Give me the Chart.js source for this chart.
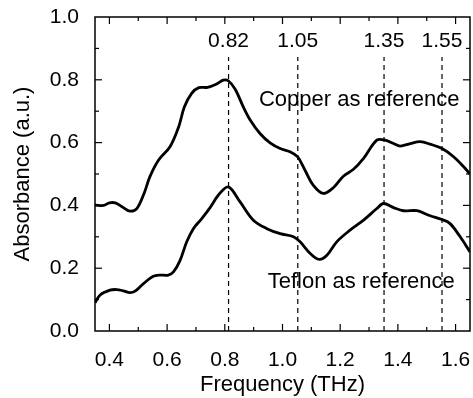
<!DOCTYPE html>
<html>
<head>
<meta charset="utf-8">
<script src="https://cdn.jsdelivr.net/npm/chart.js@4/dist/chart.umd.min.js"></script>
<style>
  html, body { margin: 0; background: #fff; }
</style>
</head>
<body>
<canvas id="absChart" width="473" height="398"></canvas>
<script>
// ── Absorbance spectra ──

const copperFreq = [0.35,0.38,0.40,0.42,0.445,0.47,0.495,0.52,0.54,0.57,0.61,0.64,0.66,0.685,0.71,0.74,0.77,0.795,0.812,0.836,0.864,0.888,0.922,0.957,0.992,1.026,1.052,1.078,1.107,1.142,1.177,1.211,1.246,1.281,1.327,1.356,1.385,1.408,1.443,1.477,1.512,1.553,1.593,1.628,1.65];
const copperAbs  = [0.401,0.400,0.408,0.408,0.395,0.382,0.390,0.438,0.491,0.544,0.587,0.650,0.714,0.757,0.775,0.776,0.786,0.799,0.797,0.770,0.714,0.672,0.629,0.599,0.581,0.571,0.555,0.512,0.464,0.438,0.457,0.493,0.515,0.550,0.608,0.608,0.597,0.589,0.597,0.603,0.595,0.581,0.555,0.523,0.500];

const teflonFreq = [0.35,0.367,0.402,0.425,0.448,0.471,0.489,0.518,0.552,0.575,0.604,0.622,0.645,0.668,0.691,0.72,0.749,0.778,0.812,0.853,0.899,0.946,0.992,1.038,1.061,1.096,1.127,1.154,1.188,1.234,1.281,1.327,1.35,1.385,1.419,1.466,1.512,1.553,1.581,1.616,1.65];
const teflonAbs  = [0.090,0.114,0.130,0.132,0.128,0.122,0.127,0.151,0.174,0.178,0.178,0.188,0.225,0.284,0.326,0.358,0.393,0.433,0.459,0.411,0.353,0.326,0.310,0.300,0.284,0.247,0.228,0.241,0.284,0.321,0.353,0.390,0.406,0.393,0.383,0.383,0.367,0.355,0.342,0.300,0.252];

const peakFreq   = [0.813, 1.053, 1.352, 1.553];
const peakLabels = ['0.82', '1.05', '1.35', '1.55'];

const xTicks = [0.4, 0.6, 0.8, 1.0, 1.2, 1.4, 1.6];
const yTicks = [0.0, 0.2, 0.4, 0.6, 0.8, 1.0];

const FONT = '"Liberation Sans", Arial, sans-serif';

const pts = (xs, ys) => xs.map((v, i) => ({ x: v, y: ys[i] }));

const curve = data => ({
  data, borderColor: '#000', borderWidth: 2.8,
  tension: 0.35, pointRadius: 0, fill: false
});

const dashes = peakFreq.map(f => ({
  data: [{ x: f, y: 0 }, { x: f, y: 0.873 }],
  borderColor: '#000', borderWidth: 1.2, borderDash: [5, 4],
  pointRadius: 0, fill: false
}));

const noPad = s => { s.paddingTop = s.paddingBottom = s.paddingLeft = s.paddingRight = 0; };

// frame, inward ticks and in-plot text
const framePlugin = {
  id: 'frame',
  afterDatasetsDraw(chart) {
    const { ctx, chartArea: a, scales: { x, y } } = chart;
    const seg = (x1, y1, x2, y2) => { ctx.beginPath(); ctx.moveTo(x1, y1); ctx.lineTo(x2, y2); ctx.stroke(); };
    ctx.save();
    ctx.strokeStyle = '#000';
    ctx.lineWidth = 1.5;
    ctx.strokeRect(a.left, a.top, a.right - a.left, a.bottom - a.top);
    ctx.lineWidth = 1.2;
    for (let i = 4; i <= 16; i++) {
      const px = x.getPixelForValue(i / 10), len = i % 2 ? 4 : 7;
      seg(px, a.bottom, px, a.bottom - len);
      seg(px, a.top, px, a.top + len);
    }
    for (let i = 1; i <= 9; i++) {
      const py = y.getPixelForValue(i / 10), len = i % 2 ? 4 : 7;
      seg(a.left, py, a.left + len, py);
      seg(a.right, py, a.right - len, py);
    }
    ctx.fillStyle = '#000';
    ctx.textAlign = 'center';
    ctx.textBaseline = 'middle';
    ctx.font = '21px ' + FONT;
    peakFreq.forEach((f, i) => ctx.fillText(peakLabels[i], x.getPixelForValue(f), y.getPixelForValue(0.924)));
    ctx.font = '22px ' + FONT;
    ctx.fillText('Copper as reference', x.getPixelForValue(1.266), y.getPixelForValue(0.735));
    ctx.fillText('Teflon as reference', x.getPixelForValue(1.273), y.getPixelForValue(0.156));
    ctx.restore();
  }
};

new Chart(document.getElementById('absChart').getContext('2d'), {
  type: 'line',
  data: {
    datasets: [curve(pts(copperFreq, copperAbs)), curve(pts(teflonFreq, teflonAbs)), ...dashes]
  },
  options: {
    responsive: false, animation: false,
    layout: { padding: { top: 17, right: 3, left: 0, bottom: 0 } },
    plugins: { legend: { display: false }, tooltip: { enabled: false } },
    scales: {
      x: {
        type: 'linear', min: 0.35, max: 1.65,
        afterBuildTicks: s => { s.ticks = xTicks.map(v => ({ value: v })); },
        afterFit: s => { s.height = 67; noPad(s); },
        grid: { display: false }, border: { display: false },
        ticks: { color: '#000', padding: 9, font: { size: 21, family: FONT }, callback: v => v.toFixed(1) },
        title: { display: true, text: 'Frequency (THz)', color: '#000', padding: { top: 3, bottom: 0 }, font: { size: 22, family: FONT } }
      },
      y: {
        min: 0, max: 1.0,
        afterBuildTicks: s => { s.ticks = yTicks.map(v => ({ value: v })); },
        afterFit: s => { s.width = 95; noPad(s); },
        grid: { display: false }, border: { display: false },
        ticks: { color: '#000', padding: 8, font: { size: 21, family: FONT }, callback: v => v.toFixed(1) },
        title: { display: true, text: 'Absorbance (a.u.)', color: '#000', padding: { top: 10, bottom: 0 }, font: { size: 22, family: FONT } }
      }
    }
  },
  plugins: [framePlugin]
});
</script>
</body>
</html>
